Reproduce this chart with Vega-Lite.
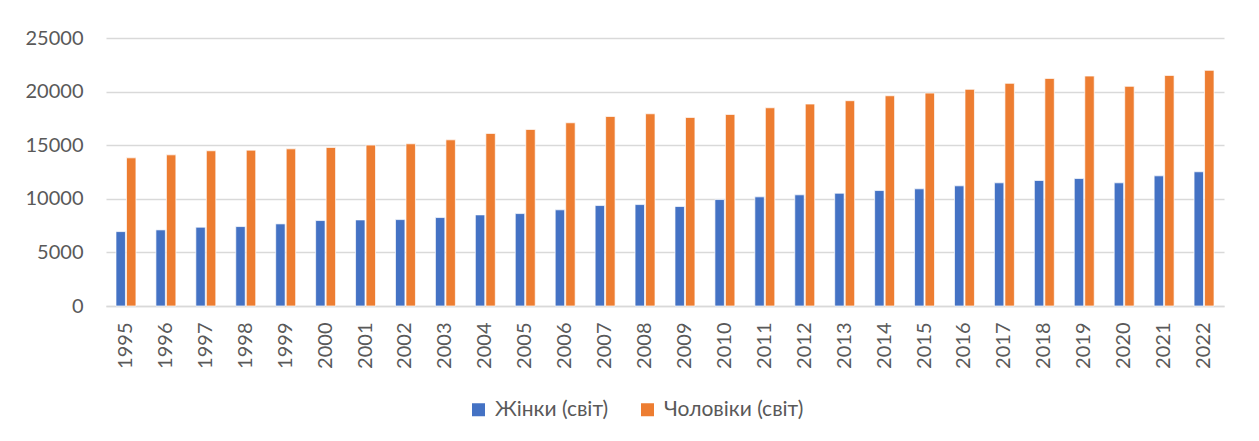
{
  "$schema": "https://vega.github.io/schema/vega-lite/v6.json",
  "width": 1118,
  "height": 268,
  "autosize": {"type": "none"},
  "padding": {"left": 106, "top": 38, "right": 35, "bottom": 135},
  "background": "white",
  "datasets": {
    "d": [
      {"year": "1995", "s": "Жінки (світ)", "v": 6940}, {"year": "1995", "s": "Чоловіки (світ)", "v": 13820},
      {"year": "1996", "s": "Жінки (світ)", "v": 7100}, {"year": "1996", "s": "Чоловіки (світ)", "v": 14100},
      {"year": "1997", "s": "Жінки (світ)", "v": 7350}, {"year": "1997", "s": "Чоловіки (світ)", "v": 14480},
      {"year": "1998", "s": "Жінки (світ)", "v": 7410}, {"year": "1998", "s": "Чоловіки (світ)", "v": 14540},
      {"year": "1999", "s": "Жінки (світ)", "v": 7660}, {"year": "1999", "s": "Чоловіки (світ)", "v": 14660},
      {"year": "2000", "s": "Жінки (світ)", "v": 7970}, {"year": "2000", "s": "Чоловіки (світ)", "v": 14790},
      {"year": "2001", "s": "Жінки (світ)", "v": 8030}, {"year": "2001", "s": "Чоловіки (світ)", "v": 15010},
      {"year": "2002", "s": "Жінки (світ)", "v": 8060}, {"year": "2002", "s": "Чоловіки (світ)", "v": 15130},
      {"year": "2003", "s": "Жінки (світ)", "v": 8250}, {"year": "2003", "s": "Чоловіки (світ)", "v": 15500},
      {"year": "2004", "s": "Жінки (світ)", "v": 8500}, {"year": "2004", "s": "Чоловіки (світ)", "v": 16100},
      {"year": "2005", "s": "Жінки (світ)", "v": 8620}, {"year": "2005", "s": "Чоловіки (світ)", "v": 16470},
      {"year": "2006", "s": "Жінки (світ)", "v": 8970}, {"year": "2006", "s": "Чоловіки (світ)", "v": 17090},
      {"year": "2007", "s": "Жінки (світ)", "v": 9370}, {"year": "2007", "s": "Чоловіки (світ)", "v": 17680},
      {"year": "2008", "s": "Жінки (світ)", "v": 9460}, {"year": "2008", "s": "Чоловіки (світ)", "v": 17930},
      {"year": "2009", "s": "Жінки (світ)", "v": 9280}, {"year": "2009", "s": "Чоловіки (світ)", "v": 17590},
      {"year": "2010", "s": "Жінки (світ)", "v": 9930}, {"year": "2010", "s": "Чоловіки (світ)", "v": 17870},
      {"year": "2011", "s": "Жінки (світ)", "v": 10180}, {"year": "2011", "s": "Чоловіки (світ)", "v": 18490},
      {"year": "2012", "s": "Жінки (світ)", "v": 10370}, {"year": "2012", "s": "Чоловіки (світ)", "v": 18840},
      {"year": "2013", "s": "Жінки (світ)", "v": 10520}, {"year": "2013", "s": "Чоловіки (світ)", "v": 19150},
      {"year": "2014", "s": "Жінки (світ)", "v": 10770}, {"year": "2014", "s": "Чоловіки (світ)", "v": 19610},
      {"year": "2015", "s": "Жінки (світ)", "v": 10930}, {"year": "2015", "s": "Чоловіки (світ)", "v": 19860},
      {"year": "2016", "s": "Жінки (світ)", "v": 11210}, {"year": "2016", "s": "Чоловіки (світ)", "v": 20210},
      {"year": "2017", "s": "Жінки (світ)", "v": 11490}, {"year": "2017", "s": "Чоловіки (світ)", "v": 20770},
      {"year": "2018", "s": "Жінки (світ)", "v": 11710}, {"year": "2018", "s": "Чоловіки (світ)", "v": 21230},
      {"year": "2019", "s": "Жінки (світ)", "v": 11890}, {"year": "2019", "s": "Чоловіки (світ)", "v": 21450},
      {"year": "2020", "s": "Жінки (світ)", "v": 11490}, {"year": "2020", "s": "Чоловіки (світ)", "v": 20490},
      {"year": "2021", "s": "Жінки (світ)", "v": 12140}, {"year": "2021", "s": "Чоловіки (світ)", "v": 21510},
      {"year": "2022", "s": "Жінки (світ)", "v": 12520}, {"year": "2022", "s": "Чоловіки (світ)", "v": 21980}
    ]
  },
  "data": {"name": "d"},
  "mark": {"type": "bar", "stroke": "white", "strokeWidth": 0.7},
  "encoding": {
    "x": {
      "field": "year", "type": "nominal", "title": null,
      "scale": {"paddingInner": 0.5, "paddingOuter": 0.25},
      "axis": {"labelAngle": -90, "labelFont": "Lato", "labelFontSize": 20, "labelColor": "#595959",
               "ticks": false, "domainColor": "#d9d9d9", "domainWidth": 1.5, "labelPadding": 16, "grid": false}
    },
    "xOffset": {"field": "s", "type": "nominal", "scale": {"paddingInner": 0.1}},
    "y": {
      "field": "v", "type": "quantitative", "title": null,
      "scale": {"domain": [0, 25000], "nice": false},
      "axis": {"values": [0, 5000, 10000, 15000, 20000, 25000], "format": "d", "labelFont": "Lato", "labelFontSize": 20,
               "labelColor": "#595959", "ticks": false, "domain": false, "gridColor": "#d9d9d9", "gridWidth": 1.3, "labelPadding": 23}
    },
    "color": {
      "field": "s", "type": "nominal", "sort": ["Жінки (світ)", "Чоловіки (світ)"],
      "scale": {"range": ["#4472C4", "#ED7D31"]},
      "legend": {"title": null, "orient": "none", "legendX": 362, "legendY": 361, "direction": "horizontal",
                 "symbolType": "square", "symbolSize": 169,
                 "symbolStrokeWidth": 0, "labelFont": "Lato", "labelFontSize": 21, "labelColor": "#595959",
                 "columnPadding": 28, "labelOffset": 6}
    }
  },
  "config": {"view": {"stroke": null}}
}
